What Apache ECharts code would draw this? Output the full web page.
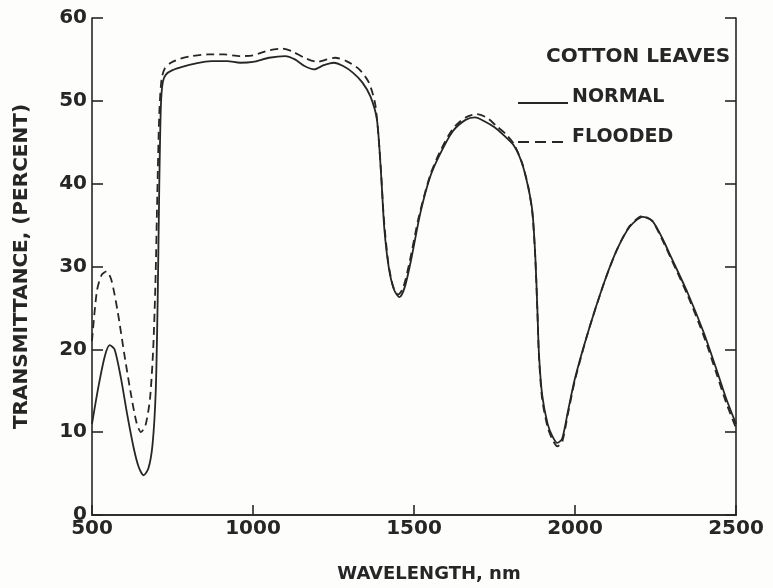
<!DOCTYPE html>
<html>
<head>
<meta charset="utf-8">
<script src="https://cdn.jsdelivr.net/npm/echarts@6/dist/echarts.min.js"></script>
<style>
  html, body { margin: 0; padding: 0; background: #fdfdfc; }
  #chart { width: 773px; height: 588px; }
</style>
</head>
<body>
<div id="chart"></div>
<script>
// Transmittance spectra of cotton leaves, 500–2500 nm
const normalWavelength = [500, 520, 540, 555, 570, 590, 610, 630, 645, 660, 675, 688, 698, 704, 709, 714, 720, 730, 750, 780, 820, 870, 920, 960, 1000, 1050, 1100, 1130, 1160, 1190, 1220, 1250, 1280, 1310, 1340, 1365, 1385, 1398, 1408, 1422, 1438, 1455, 1472, 1492, 1520, 1550, 1580, 1620, 1660, 1690, 1720, 1750, 1780, 1810, 1835, 1855, 1868, 1877, 1883, 1888, 1898, 1915, 1930, 1945, 1960, 1978, 2000, 2040, 2090, 2130, 2170, 2210, 2240, 2270, 2300, 2350, 2400, 2440, 2470, 2500];
const normalValues = [11, 15.5, 19.2, 20.5, 20.0, 16.5, 12.0, 8.0, 5.8, 4.8, 5.6, 8.5, 15, 26, 40, 49.5, 52.3, 53.2, 53.7, 54.1, 54.5, 54.8, 54.8, 54.6, 54.7, 55.2, 55.4, 55.0, 54.2, 53.8, 54.3, 54.6, 54.2, 53.4, 52.2, 50.5, 47.7, 41, 34.5, 29.8, 27.2, 26.3, 27.6, 31, 36.5, 40.8, 43.5, 46.3, 47.7, 48.0, 47.5, 46.8, 45.8, 44.6, 42.5, 39.5, 36.5, 31, 25, 19.5, 14.5, 11, 9.5, 8.7, 9.2, 12.5, 16.5, 22, 28, 32, 34.8, 36.0, 35.5, 33.5, 31.0, 26.8, 22.0, 17.5, 14.0, 11.0];

const floodedWavelength = [500, 515, 530, 545, 560, 580, 600, 620, 638, 652, 666, 680, 690, 697, 703, 709, 716, 726, 745, 775, 810, 860, 910, 960, 1000, 1050, 1090, 1120, 1160, 1200, 1230, 1255, 1290, 1330, 1360, 1380, 1395, 1406, 1420, 1435, 1450, 1466, 1486, 1515, 1550, 1580, 1620, 1660, 1695, 1725, 1755, 1785, 1810, 1835, 1855, 1868, 1877, 1883, 1888, 1898, 1915, 1930, 1945, 1960, 1978, 2000, 2040, 2090, 2130, 2170, 2210, 2240, 2270, 2300, 2350, 2400, 2440, 2470, 2500];
const floodedValues = [21, 27, 29.0, 29.4, 28.4, 24.5, 19.5, 14.8, 11.2, 10.0, 10.8, 14, 20, 28, 39, 48.5, 52.6, 53.9, 54.6, 55.1, 55.4, 55.6, 55.6, 55.4, 55.5, 56.1, 56.3, 56.0, 55.2, 54.7, 55.0, 55.2, 54.8, 53.8, 52.2, 49.5, 43, 36, 30.5, 27.6, 26.6, 27.4, 30.5, 36, 41, 43.8, 46.6, 48.0, 48.4, 48.0, 47.0, 46.0, 44.8, 42.6, 39.6, 36.3, 30.8, 24.8, 19.2, 14.0, 10.6, 9.1, 8.3, 8.8, 12.2, 16.3, 22, 28, 32, 34.9, 36.1, 35.5, 33.3, 30.8, 26.5, 21.6, 17.0, 13.5, 10.5];

const xTicks = { min: 500, max: 2500, step: 500 };
const yTicks = { min: 0, max: 60, step: 10 };

const ink = '#262626';
const labelFont = 'DejaVu Sans';

function pairs(xs, ys) { return xs.map((x, i) => [x, ys[i]]); }

const chart = echarts.init(document.getElementById('chart'), null, { renderer: 'canvas' });

const baseY = {
  type: 'value', min: yTicks.min, max: yTicks.max, interval: yTicks.step,
  splitLine: { show: false },
  axisLine: { show: true, lineStyle: { color: ink, width: 1.6 } },
  axisTick: { show: true, inside: true, length: 11, lineStyle: { color: ink, width: 1.6 } }
};

const legendFont = 'bold 19px "DejaVu Sans"';

chart.setOption({
  backgroundColor: '#fdfdfc',
  animation: false,
  grid: { left: 92, right: 37, top: 18, bottom: 73 },
  xAxis: [
    {
      type: 'value', min: xTicks.min, max: xTicks.max, interval: xTicks.step,
      position: 'bottom',
      name: 'WAVELENGTH, nm', nameLocation: 'middle', nameGap: 50,
      nameTextStyle: { fontFamily: labelFont, fontWeight: 'bold', fontSize: 18, color: ink, padding: [0, 0, 0, 30] },
      splitLine: { show: false },
      axisLine: { show: true, lineStyle: { color: ink, width: 1.6 } },
      axisTick: { show: true, inside: true, length: 10, lineStyle: { color: ink, width: 1.6 } },
      axisLabel: { fontFamily: labelFont, fontWeight: 'bold', fontSize: 20, color: ink, margin: 4,
                   formatter: v => String(v) }
    },
    {
      type: 'value', min: xTicks.min, max: xTicks.max, position: 'top',
      splitLine: { show: false }, axisTick: { show: false }, axisLabel: { show: false },
      axisLine: { show: true, lineStyle: { color: ink, width: 1.6 } }
    }
  ],
  yAxis: [
    Object.assign({}, baseY, {
      position: 'left',
      name: 'TRANSMITTANCE, (PERCENT)', nameLocation: 'middle', nameGap: 60, nameRotate: 90,
      nameTextStyle: { fontFamily: labelFont, fontWeight: 'bold', fontSize: 20, color: ink },
      axisLabel: { fontFamily: labelFont, fontWeight: 'bold', fontSize: 20, color: ink, margin: 5 }
    }),
    Object.assign({}, baseY, {
      position: 'right',
      axisLabel: { show: false }
    })
  ],
  series: [
    {
      name: 'NORMAL', type: 'line', xAxisIndex: 0, yAxisIndex: 0,
      data: pairs(normalWavelength, normalValues),
      showSymbol: false, smooth: 0.25,
      lineStyle: { color: ink, width: 1.8 }
    },
    {
      name: 'FLOODED', type: 'line', xAxisIndex: 0, yAxisIndex: 0,
      data: pairs(floodedWavelength, floodedValues),
      showSymbol: false, smooth: 0.25,
      lineStyle: { color: ink, width: 1.8, type: [8, 5] }
    }
  ],
  graphic: [
    { type: 'text', x: 546, y: 57, style: { text: 'COTTON LEAVES', font: 'bold 20px "DejaVu Sans"', fill: ink, verticalAlign: 'middle' } },
    { type: 'line', shape: { x1: 518, y1: 103, x2: 568, y2: 103 }, style: { stroke: ink, lineWidth: 1.8 } },
    { type: 'text', x: 572, y: 97, style: { text: 'NORMAL', font: legendFont, fill: ink, verticalAlign: 'middle' } },
    { type: 'line', shape: { x1: 518, y1: 142, x2: 568, y2: 142 }, style: { stroke: ink, lineWidth: 1.8, lineDash: [11, 6] } },
    { type: 'text', x: 572, y: 137, style: { text: 'FLOODED', font: legendFont, fill: ink, verticalAlign: 'middle' } }
  ]
});
</script>
</body>
</html>
